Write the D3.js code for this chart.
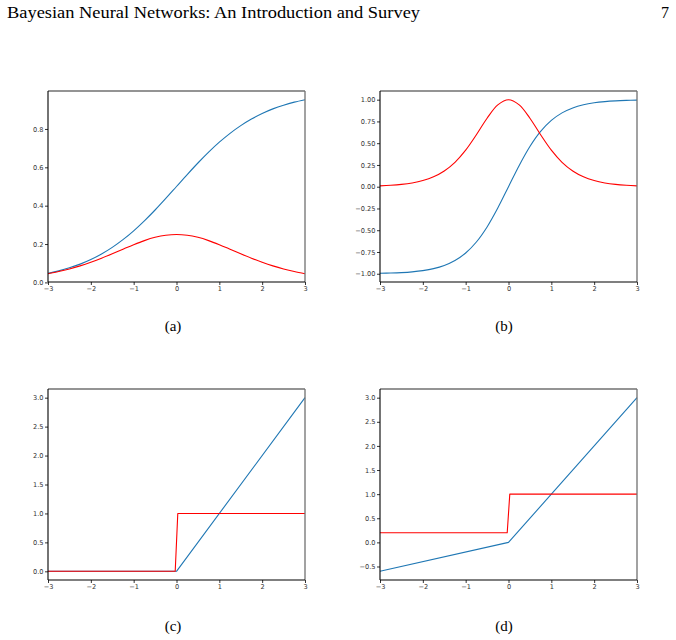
<!DOCTYPE html>
<html>
<head>
<meta charset="utf-8">
<script src="https://cdn.jsdelivr.net/npm/d3@7"></script>
<style>
  html, body { margin: 0; padding: 0; background: #fff; }
  svg { display: block; }
</style>
</head>
<body>
<svg id="page" width="676" height="640"></svg>
<script>
// ---------------- data ----------------
const headerTitle = "Bayesian Neural Networks: An Introduction and Survey";
const pageNumber = "7";
const captions = ["(a)", "(b)", "(c)", "(d)"];

const xSmooth = [-3, -2.75, -2.5, -2.25, -2, -1.75, -1.5, -1.25, -1, -0.75, -0.5, -0.25, 0,
                 0.25, 0.5, 0.75, 1, 1.25, 1.5, 1.75, 2, 2.25, 2.5, 2.75, 3];

// (a) sigmoid and its derivative
const sigmoidVals = [0.0474, 0.0601, 0.0759, 0.0953, 0.1192, 0.1480, 0.1824, 0.2227, 0.2689, 0.3208, 0.3775, 0.4378, 0.5,
                     0.5622, 0.6225, 0.6792, 0.7311, 0.7773, 0.8176, 0.8520, 0.8808, 0.9047, 0.9241, 0.9399, 0.9526];
const sigmoidGrad = [0.0452, 0.0565, 0.0701, 0.0862, 0.1050, 0.1261, 0.1491, 0.1731, 0.1966, 0.2179, 0.2350, 0.2461, 0.25,
                     0.2461, 0.2350, 0.2179, 0.1966, 0.1731, 0.1491, 0.1261, 0.1050, 0.0862, 0.0701, 0.0565, 0.0452];

// (b) tanh and its derivative
const tanhVals = [-0.9951, -0.9918, -0.9866, -0.9780, -0.9640, -0.9414, -0.9051, -0.8483, -0.7616, -0.6351, -0.4621, -0.2449, 0,
                  0.2449, 0.4621, 0.6351, 0.7616, 0.8483, 0.9051, 0.9414, 0.9640, 0.9780, 0.9866, 0.9918, 0.9951];
const tanhGrad = [0.0099, 0.0163, 0.0266, 0.0435, 0.0707, 0.1138, 0.1807, 0.2804, 0.4200, 0.5967, 0.7864, 0.9400, 1.0,
                  0.9400, 0.7864, 0.5967, 0.4200, 0.2804, 0.1807, 0.1138, 0.0707, 0.0435, 0.0266, 0.0163, 0.0099];

// (c) ReLU and its derivative
const reluX = [-3, 0, 3];
const reluVals = [0, 0, 3];
const reluGradX = [-3, -0.03, 0.03, 3];
const reluGrad = [0, 0, 1, 1];

// (d) leaky ReLU and its derivative
const leakyX = [-3, 0, 3];
const leakyVals = [-0.6, 0, 3];
const leakyGradX = [-3, -0.03, 0.03, 3];
const leakyGrad = [0.2, 0.2, 1, 1];

// tick labels
const xTicks = [-3, -2, -1, 0, 1, 2, 3];
const yTicksA = [0.0, 0.2, 0.4, 0.6, 0.8];
const yTicksB = [-1.0, -0.75, -0.5, -0.25, 0.0, 0.25, 0.5, 0.75, 1.0];
const yTicksC = [0.0, 0.5, 1.0, 1.5, 2.0, 2.5, 3.0];
const yTicksD = [-0.5, 0.0, 0.5, 1.0, 1.5, 2.0, 2.5, 3.0];

// ---------------- drawing ----------------
const svg = d3.select("#page");
const BLUE = "#1f77b4", RED = "#ff0000";
const minus = s => s.replace("-", "\u2212");

svg.append("text").attr("x", 7).attr("y", 18)
  .attr("font-family", "'Liberation Serif', 'DejaVu Serif', serif")
  .attr("font-size", 16).attr("fill", "#000")
  .attr("textLength", 413).attr("lengthAdjust", "spacingAndGlyphs")
  .text(headerTitle);
svg.append("text").attr("x", 669).attr("y", 18).attr("text-anchor", "end")
  .attr("font-family", "'Liberation Serif', 'DejaVu Serif', serif")
  .attr("font-size", 16).attr("fill", "#000").text(pageNumber);

const panels = [
  { x0: 48, x1: 305, y0: 91, y1: 282, ydom: [0.0021, 0.9979], yt: yTicksA, fmt: d3.format(".1f"),
    series: [{ x: xSmooth, y: sigmoidVals, c: BLUE, smooth: true }, { x: xSmooth, y: sigmoidGrad, c: RED, smooth: true }],
    cap: captions[0], capX: 173, capY: 331 },
  { x0: 380, x1: 637, y0: 91, y1: 282, ydom: [-1.0948, 1.0997], yt: yTicksB, fmt: d3.format(".2f"),
    series: [{ x: xSmooth, y: tanhVals, c: BLUE, smooth: true }, { x: xSmooth, y: tanhGrad, c: RED, smooth: true }],
    cap: captions[1], capX: 504, capY: 331 },
  { x0: 48, x1: 305, y0: 389, y1: 580, ydom: [-0.15, 3.15], yt: yTicksC, fmt: d3.format(".1f"),
    series: [{ x: reluX, y: reluVals, c: BLUE }, { x: reluGradX, y: reluGrad, c: RED }],
    cap: captions[2], capX: 173, capY: 631 },
  { x0: 380, x1: 637, y0: 389, y1: 580, ydom: [-0.78, 3.18], yt: yTicksD, fmt: d3.format(".1f"),
    series: [{ x: leakyX, y: leakyVals, c: BLUE }, { x: leakyGradX, y: leakyGrad, c: RED }],
    cap: captions[3], capX: 504, capY: 631 }
];

panels.forEach(p => {
  const x = d3.scaleLinear().domain([-3, 3]).range([p.x0, p.x1]);
  const y = d3.scaleLinear().domain(p.ydom).range([p.y1, p.y0]);
  const g = svg.append("g");

  // series
  p.series.forEach(s => {
    const pts = s.x.map((xv, i) => [xv, s.y[i]]);
    const line = d3.line().x(d => x(d[0])).y(d => y(d[1]))
      .curve(s.smooth ? d3.curveCatmullRom.alpha(0.5) : d3.curveLinear);
    g.append("path").datum(pts).attr("d", line)
      .attr("fill", "none").attr("stroke", s.c).attr("stroke-width", 1.1)
      .attr("stroke-linejoin", "round");
  });

  // top & right spines (greyish)
  g.append("line").attr("x1", p.x0).attr("x2", p.x1).attr("y1", p.y0).attr("y2", p.y0)
    .attr("stroke", "#707070").attr("stroke-width", 1.3);
  g.append("line").attr("x1", p.x1).attr("x2", p.x1).attr("y1", p.y0).attr("y2", p.y1)
    .attr("stroke", "#707070").attr("stroke-width", 1.3);

  // axes
  const ax = d3.axisBottom(x).tickValues(xTicks).tickSize(3).tickPadding(1.5)
    .tickFormat(d => minus(d3.format("d")(d)));
  const gx = g.append("g").attr("transform", `translate(0,${p.y1})`).call(ax);
  const ay = d3.axisLeft(y).tickValues(p.yt).tickSize(3).tickPadding(1.5)
    .tickFormat(d => minus(p.fmt(d)));
  const gy = g.append("g").attr("transform", `translate(${p.x0},0)`).call(ay);
  [gx, gy].forEach(a => {
    a.select(".domain").attr("stroke", "#000").attr("stroke-width", 1.1);
    a.selectAll(".tick line").attr("stroke", "#000").attr("stroke-width", 0.8);
    a.selectAll(".tick text").attr("font-family", "'DejaVu Sans', sans-serif")
      .attr("font-size", 6.6).attr("fill", "#333");
  });
  gx.select(".domain").attr("d", `M${p.x0},0H${p.x1}`);
  gy.select(".domain").attr("d", `M0,${p.y1}V${p.y0}`);

  // caption
  svg.append("text").attr("x", p.capX).attr("y", p.capY).attr("text-anchor", "middle")
    .attr("font-family", "'Liberation Serif', 'DejaVu Serif', serif")
    .attr("font-size", 15).attr("fill", "#000").text(p.cap);
});
</script>
</body>
</html>
